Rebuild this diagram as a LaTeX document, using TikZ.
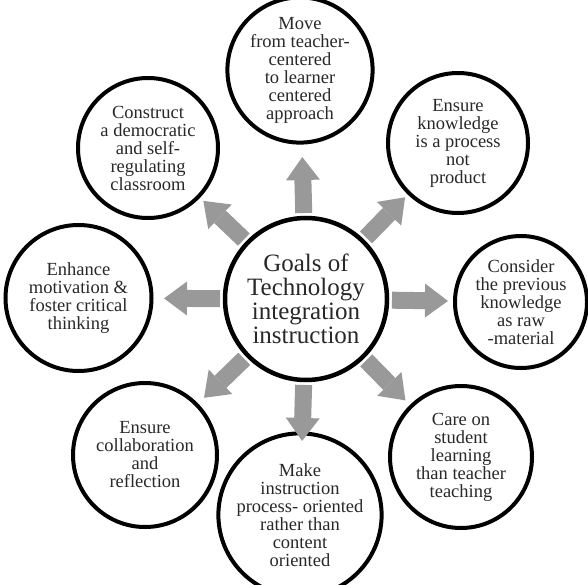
\documentclass[tikz,border=0pt]{standalone}
\usepackage{fontspec}
\setmainfont{Liberation Serif}
\usetikzlibrary{arrows.meta,calc}
\definecolor{arrowgray}{RGB}{153,153,153}
\definecolor{inkgray}{RGB}{40,40,40}
\tikzset{
  goal/.style={circle, draw=black, line width=4pt, inner sep=0pt, align=center,
    text=inkgray, font=\fontsize{18.5}{18}\selectfont},
  hub/.style={circle, draw=black, line width=4.5pt, inner sep=0pt, align=center,
    text=inkgray, font=\fontsize{25}{24}\selectfont},
  blockarrow/.style={draw=arrowgray, line width=17pt,
    -{Triangle[length=23pt,width=34pt,line width=0pt,fill=arrowgray,color=arrowgray]}}
}
\begin{document}
\begin{tikzpicture}[x=1pt,y=-1pt]
\useasboundingbox (0,0) rectangle (588,585);
\node[hub, minimum size=162pt] (c) at (306,299) {Goals of\\Technology\\integration\\instruction};
\node[goal, minimum size=134pt] (n) at (300,70) {Move\\from teacher-\\centered\\to learner\\centered\\approach};
\node[goal, minimum size=140pt] (ne) at (458,143) {Ensure\\knowledge\\is a process\\not\\product};
\node[goal, minimum size=132pt] (e) at (521,302) {Consider\\the previous\\knowledge\\as raw\\-material};
\node[goal, minimum size=142pt] (se) at (461,457) {Care on\\student\\learning\\than teacher\\teaching};
\node[goal, minimum size=136pt] (s) at (300,515) {Make\\instruction\\process- oriented\\rather than\\content\\oriented};
\node[goal, minimum size=144pt] (sw) at (145,455) {Ensure\\collaboration\\and\\reflection};
\node[goal, minimum size=146pt] (w) at (78.5,298) {Enhance\\motivation \&\\foster critical\\thinking};
\node[goal, minimum size=140pt] (nw) at (148,148) {Construct\\a democratic\\and self-\\regulating\\classroom};
\foreach \t in {n,ne,e,se,s,sw,w,nw}{
  \draw[blockarrow] ($(c)!86pt!(\t)$) -- ($(c)!142pt!(\t)$);
}
\end{tikzpicture}
\end{document}
